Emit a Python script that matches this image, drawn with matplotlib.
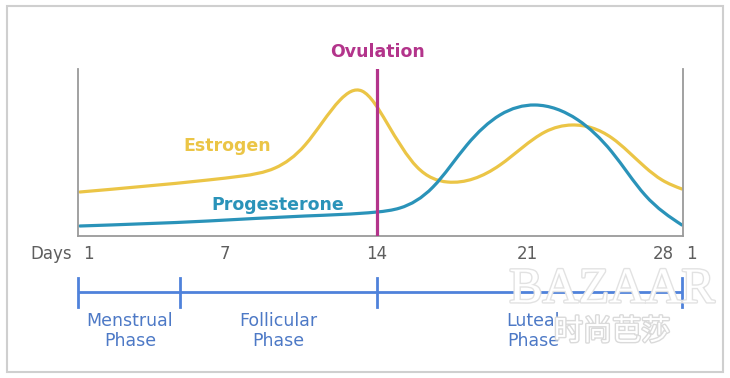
import numpy as np
import matplotlib
matplotlib.use('Agg')
import matplotlib.pyplot as plt
from matplotlib.path import Path
from matplotlib.patches import PathPatch, Rectangle
import matplotlib.patheffects as pe

# hormone levels (cycle day, relative level)
estrogen_day = [0.29, 6.22, 7.79, 9.32, 10.71, 12.33, 13.34, 14.50, 15.89, 17.3,
                19.73, 21.81, 23.06, 24.91, 26.44, 27.23, 28.15]
estrogen_lvl = [44, 56, 60, 68, 91, 136, 145, 113, 69, 54,
                71, 104, 111, 98, 69, 56, 47]

progest_day = [0.29, 6.22, 10.71, 14.04, 15.10, 16.63, 18.20, 19.73, 21.35,
               23.34, 24.91, 26.44, 28.15]
progest_lvl = [10, 15, 20, 24, 28, 49, 91, 121, 131,
               116, 84, 41, 11]

ovulation_day = 14.04
day_labels = ['1', '7', '14', '21', '28', '1']
day_label_pos = [0.66, 7, 14.04, 21, 27.3, 28.6]
phase_bounds = [0.2, 4.92, 14.04, 28.16]
phase_names = ['Menstrual\nPhase', 'Follicular\nPhase', 'Luteal\nPhase']
phase_centers = [2.6, 9.46, 21.27]

c_est = '#ebc546'
c_pro = '#2a93b9'
c_ovu = '#b3348b'
c_phase = '#4f82db'
c_ptext = '#4d79c6'
c_gray = '#5e5e5e'


def smooth_path(x, y):
    # natural cubic spline through the read points, handed to matplotlib as bezier segments
    x = np.asarray(x, float)
    y = np.asarray(y, float)
    n = len(x)
    h = np.diff(x)
    d = np.diff(y) / h
    A = np.zeros((n, n))
    r = np.zeros(n)
    A[0, 0] = A[-1, -1] = 1
    for i in range(1, n - 1):
        A[i, i - 1] = h[i - 1]
        A[i, i] = 2 * (h[i - 1] + h[i])
        A[i, i + 1] = h[i]
        r[i] = 6 * (d[i] - d[i - 1])
    M = np.linalg.solve(A, r)
    m = np.zeros(n)
    m[:-1] = d - h * (2 * M[:-1] + M[1:]) / 6
    m[-1] = d[-1] + h[-1] * (M[-2] + 2 * M[-1]) / 6
    verts = [(x[0], y[0])]
    codes = [Path.MOVETO]
    for i in range(n - 1):
        verts += [(x[i] + h[i] / 3, y[i] + m[i] * h[i] / 3),
                  (x[i + 1] - h[i] / 3, y[i + 1] - m[i + 1] * h[i] / 3),
                  (x[i + 1], y[i + 1])]
        codes += [Path.CURVE4] * 3
    return Path(verts, codes)


W, H = 730, 378
fig = plt.figure(figsize=(W / 100, H / 100), dpi=100)

# outer frame
fig.patches.append(Rectangle((7 / W, 1 - 372 / H), 716 / W, 366 / H, transform=fig.transFigure,
                             fill=False, edgecolor='#cfcfcf', linewidth=1.5))

ax = fig.add_axes([78 / W, 1 - 236 / H, 605 / W, 167 / H])
ax.set_xlim(0.2, 28.2)
ax.set_ylim(0, 167)
ax.set_xticks([])
ax.set_yticks([])
ax.patch.set_alpha(0)
ax.spines['top'].set_visible(False)
for s in ['left', 'right', 'bottom']:
    ax.spines[s].set_color('#9a9a9a')
    ax.spines[s].set_linewidth(1.3)

ax.add_patch(PathPatch(smooth_path(estrogen_day, estrogen_lvl), fill=False,
                       edgecolor=c_est, linewidth=2.3, capstyle='round'))
ax.add_patch(PathPatch(smooth_path(progest_day, progest_lvl), fill=False,
                       edgecolor=c_pro, linewidth=2.3, capstyle='round'))
ax.plot([ovulation_day, ovulation_day], [0, 167], color=c_ovu, linewidth=2.3, zorder=5)

ax.text(ovulation_day, 184, 'Ovulation', color=c_ovu, fontsize=12.5, fontweight='bold',
        ha='center', va='center')
ax.text(7.1, 90, 'Estrogen', color=c_est, fontsize=12.5, fontweight='bold',
        ha='center', va='center')
ax.text(9.45, 31, 'Progesterone', color=c_pro, fontsize=12.5, fontweight='bold',
        ha='center', va='center')

# day labels
for lab, pos in zip(day_labels, day_label_pos):
    ax.text(pos, -18, lab, color=c_gray, fontsize=12, ha='center', va='center', clip_on=False)
ax.text(-1.02, -18, 'Days', color=c_gray, fontsize=12, ha='center', va='center', clip_on=False)

# phase bar
ax.plot([phase_bounds[0], phase_bounds[-1]], [-56, -56], color=c_phase, linewidth=2,
        clip_on=False, solid_capstyle='butt')
for b in phase_bounds:
    ax.plot([b, b], [-42, -71], color=c_phase, linewidth=2, clip_on=False)
for name, cx in zip(phase_names, phase_centers):
    ax.text(cx, -95, name, color=c_ptext, fontsize=12.5, ha='center', va='center',
            linespacing=1.15, clip_on=False)

# watermark
fig.text(612 / W, 1 - 290 / H, 'BAZAAR', family='Liberation Serif', fontsize=36,
         color='white', ha='center', va='center',
         path_effects=[pe.withStroke(linewidth=2, foreground='#e2e2e2')])
fig.text(612 / W, 1 - 332 / H, '时尚芭莎', family=['Noto Sans CJK SC', 'DejaVu Sans'],
         fontsize=21, color='white', ha='center', va='center',
         path_effects=[pe.withStroke(linewidth=2, foreground='#dadada')])

fig.savefig('out.png', dpi=100)
